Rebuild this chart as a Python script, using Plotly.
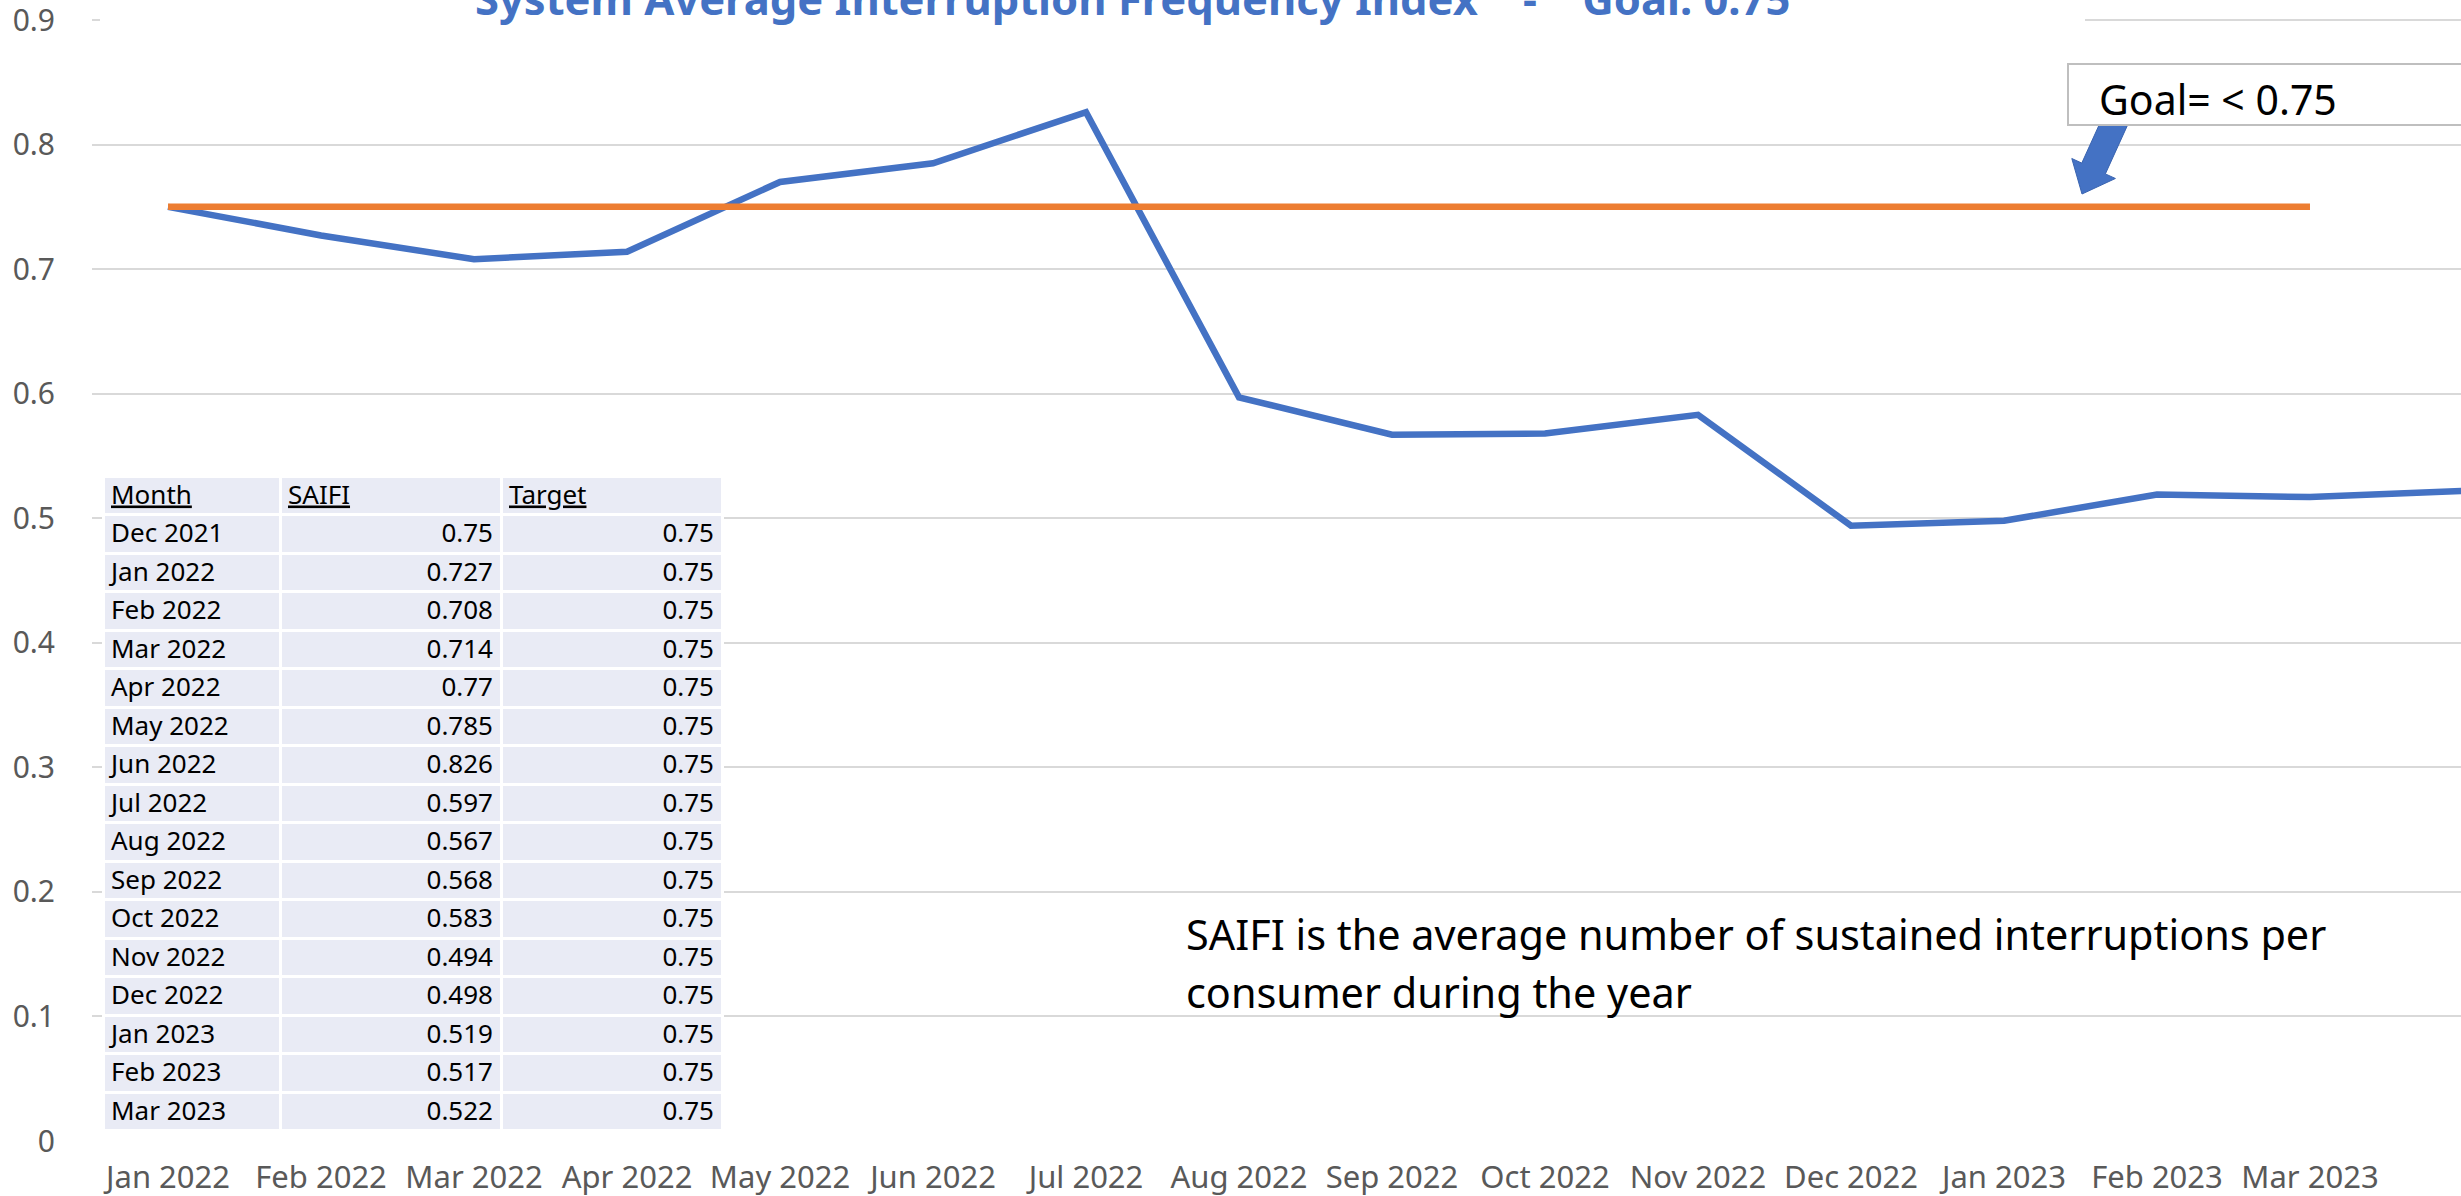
import plotly.graph_objects as go

# ---------------- data ----------------
table_months = ["Dec 2021", "Jan 2022", "Feb 2022", "Mar 2022", "Apr 2022", "May 2022",
                "Jun 2022", "Jul 2022", "Aug 2022", "Sep 2022", "Oct 2022", "Nov 2022",
                "Dec 2022", "Jan 2023", "Feb 2023", "Mar 2023"]
saifi = [0.75, 0.727, 0.708, 0.714, 0.77, 0.785, 0.826, 0.597, 0.567, 0.568,
         0.583, 0.494, 0.498, 0.519, 0.517, 0.522]
target = [0.75] * 16
x_labels = ["Jan 2022", "Feb 2022", "Mar 2022", "Apr 2022", "May 2022", "Jun 2022",
            "Jul 2022", "Aug 2022", "Sep 2022", "Oct 2022", "Nov 2022", "Dec 2022",
            "Jan 2023", "Feb 2023", "Mar 2023"]
y_ticks = [0, 0.1, 0.2, 0.3, 0.4, 0.5, 0.6, 0.7, 0.8, 0.9]
title_text = "System Average Interruption Frequency Index\u00a0\u00a0\u00a0\u00a0-\u00a0\u00a0\u00a0\u00a0Goal: 0.75"
note_lines = ["SAIFI is the average number of sustained interruptions per",
              "consumer during the year"]
goal_text = "Goal= < 0.75"
n_target_points = 15

# ---------------- geometry helpers (pixel -> paper) ----------------
W, H = 2461, 1196
L, R, T, B = 92, 2461, 14, 1141
PW, PH = R - L, B - T
PX_PER_UNIT = (1141 - 20) / 0.9          # 0.9 sits at y=20px, 0 at y=1141px
Y_TOP = (B - T) / PX_PER_UNIT


def px_x(p):
    return (p - L) / PW


def px_y(p):
    return (B - p) / PH


FONT = "Noto Sans"
BLUE = "#4472C4"
ORANGE = "#ED7D31"

fig = go.Figure()

fig.add_trace(go.Scatter(
    x=list(range(len(saifi))), y=saifi, mode="lines",
    line=dict(color=BLUE, width=6.5), hoverinfo="skip"))
fig.add_trace(go.Scatter(
    x=list(range(n_target_points)), y=target[:n_target_points], mode="lines",
    line=dict(color=ORANGE, width=6.5), hoverinfo="skip"))

fig.add_trace(go.Table(
    domain=dict(x=[px_x(103), px_x(722)], y=[px_y(1131), px_y(476)]),
    columnwidth=[177, 221, 221],
    header=dict(values=["Month", "SAIFI", "Target"],
                align=["left", "left", "left"],
                fill_color="#E9EBF5",
                line=dict(color="white", width=3),
                font=dict(family=FONT, size=26, color="black", lineposition="under"),
                height=38.5),
    cells=dict(values=[table_months, [str(v) for v in saifi], [str(v) for v in target]],
               align=["left", "right", "right"],
               fill_color="#E9EBF5",
               line=dict(color="white", width=3),
               font=dict(family=FONT, size=26, color="black"),
               height=38.5),
))

shapes = []
# white box hiding the top gridline behind the title
shapes.append(dict(type="rect", xref="paper", yref="paper",
                   x0=px_x(100), x1=px_x(2085), y0=px_y(27), y1=px_y(10),
                   fillcolor="white", line=dict(width=0), layer="above"))
# block arrow pointing at the goal line
arrow = [(2128.8, 122.4), (2105.4, 173.9), (2115.4, 178.5), (2082, 194),
         (2071.8, 158.5), (2081.8, 163.1), (2105.2, 111.6)]
path = "M " + " L ".join(f"{px_x(a):.5f},{px_y(b):.5f}" for a, b in arrow) + " Z"
shapes.append(dict(type="path", xref="paper", yref="paper", path=path,
                   fillcolor=BLUE, line=dict(color="#3A64B0", width=1), layer="above"))
# goal box
shapes.append(dict(type="rect", xref="paper", yref="paper",
                   x0=px_x(2068), x1=px_x(2480), y0=px_y(125), y1=px_y(64),
                   fillcolor="white", line=dict(color="#BFBFBF", width=2), layer="above"))

annotations = [
    dict(text="<b>" + title_text + "</b>", xref="paper", yref="paper",
         x=px_x(1132), y=px_y(-2), xanchor="center", yanchor="middle", showarrow=False,
         font=dict(family=FONT, size=43.5, color=BLUE)),
    dict(text=goal_text, xref="paper", yref="paper",
         x=px_x(2097), y=px_y(99), xanchor="left", yanchor="middle", showarrow=False,
         font=dict(family=FONT, size=41, color="black")),
    dict(text=note_lines[0], xref="paper", yref="paper",
         x=px_x(1184), y=px_y(934), xanchor="left", yanchor="middle", showarrow=False,
         font=dict(family=FONT, size=41.4, color="black")),
    dict(text=note_lines[1], xref="paper", yref="paper",
         x=px_x(1184), y=px_y(992), xanchor="left", yanchor="middle", showarrow=False,
         font=dict(family=FONT, size=41.4, color="black")),
]

fig.update_layout(
    width=W, height=H,
    margin=dict(l=L, r=W - R, t=T, b=H - B, pad=0, autoexpand=False),
    paper_bgcolor="white", plot_bgcolor="white",
    showlegend=False,
    shapes=shapes, annotations=annotations,
    xaxis=dict(range=[-0.497, 14.987], tickmode="array",
               tickvals=list(range(len(x_labels))), ticktext=x_labels,
               showgrid=False, zeroline=False, showline=False, ticks="",
               tickfont=dict(family=FONT, size=31, color="#595959"),
               ticklabelstandoff=15, fixedrange=True, automargin=False,
               ticklabeloverflow="allow"),
    yaxis=dict(range=[0, Y_TOP], tickmode="array", tickvals=y_ticks,
               ticktext=[f"{v:g}" for v in y_ticks],
               showgrid=True, gridcolor="#D9D9D9", gridwidth=2,
               zeroline=False, showline=False, ticks="",
               tickfont=dict(family=FONT, size=30, color="#595959"),
               ticklabelstandoff=36, fixedrange=True, automargin=False,
               ticklabeloverflow="allow"),
)

fig.write_html("out.html", config={"displayModeBar": False},
               post_script="document.body.style.margin='0';document.body.style.overflow='hidden';")
